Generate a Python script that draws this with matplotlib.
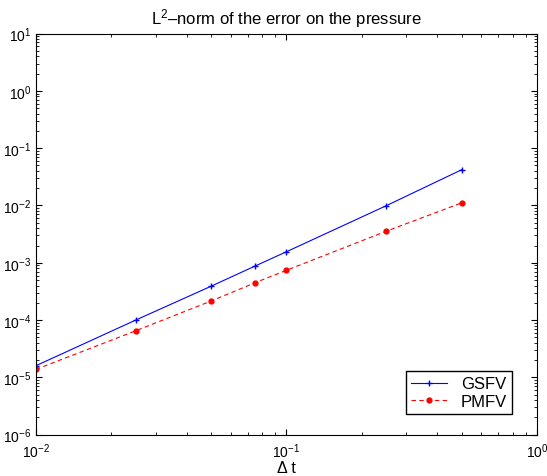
"""Log-log convergence plot of the pressure L2 error."""

import matplotlib

matplotlib.use("Agg")
import matplotlib.pyplot as plt
import numpy as np

plt.rcParams["font.family"] = ["Liberation Sans", "DejaVu Sans"]
plt.rcParams["mathtext.fontset"] = "custom"
plt.rcParams["mathtext.rm"] = "Liberation Sans"
plt.rcParams["mathtext.it"] = "Liberation Sans:italic"

dt = np.array([0.01, 0.025, 0.05, 0.075, 0.1, 0.25, 0.5])
err_gsfv = np.array([1.6e-5, 1.0e-4, 3.9e-4, 8.8e-4, 1.56e-3, 9.9e-3, 4.2e-2])
err_pmfv = np.array([1.38e-5, 6.5e-5, 2.15e-4, 4.5e-4, 7.4e-4, 3.55e-3, 1.11e-2])

fig = plt.figure(figsize=(5.47, 4.77), dpi=100)
ax = fig.add_axes([0.0658, 0.0866, 0.9159, 0.8409])

ax.loglog(dt, err_gsfv, "b-+", linewidth=0.8, markersize=5, label="GSFV")
ax.loglog(dt, err_pmfv, "r--.", linewidth=0.8, markersize=7, dashes=(4, 3), label="PMFV")

ax.set_xlim(1e-2, 1e0)
ax.set_ylim(1e-6, 1e1)
ax.tick_params(which="both", direction="in", top=True, right=True, labelsize=10)
ax.tick_params(which="major", length=4)
ax.tick_params(which="minor", length=2)
ax.tick_params(axis="x", which="major", pad=5)
for spine in ax.spines.values():
    spine.set_linewidth(0.8)

ax.set_title(r"L$^2$–norm of the error on the pressure", fontsize=12, pad=7)
ax.set_xlabel("Δ t", fontsize=11.5, labelpad=0)

ax.legend(
    loc="lower right",
    bbox_to_anchor=(0.95, 0.052),
    borderaxespad=0,
    fontsize=12,
    fancybox=False,
    edgecolor="black",
    framealpha=1,
    handlelength=2.2,
    borderpad=0.3,
    labelspacing=0.15,
)

fig.savefig("out.png", dpi=100)
